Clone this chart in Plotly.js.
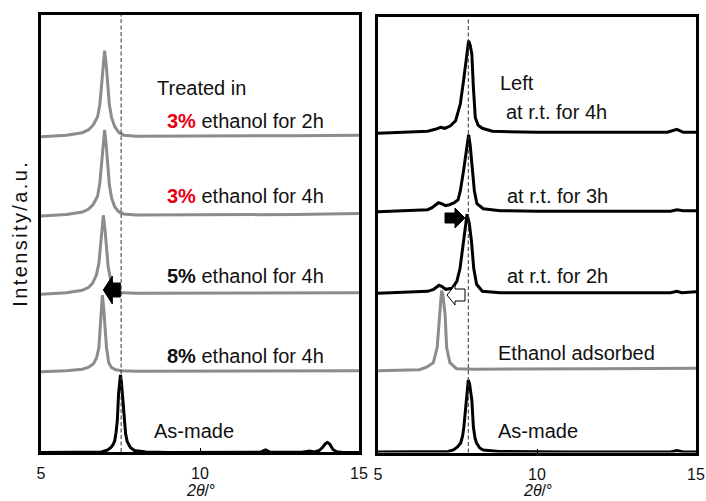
<!DOCTYPE html>
<html><head><meta charset="utf-8">
<script src="https://cdn.plot.ly/plotly-3.0.1.min.js"></script>
<style>
html,body{margin:0;padding:0;background:#fff}
#chart{width:706px;height:501px}
.ytitle{letter-spacing:2.4px}
</style>
</head><body><div id="chart"></div>
<script>
// ---------- Left panel: ethanol treatment (heights above each baseline, a.u.) ----------
const L1x = [5.0, 5.8, 6.3, 6.5, 6.65, 6.78, 6.85, 6.9, 6.95, 7.0, 7.05, 7.1, 7.15, 7.22, 7.32, 7.45, 7.6, 8.0, 10, 13, 15];
const L1h = [0, 1.5, 4, 7, 12, 20, 32, 52, 74, 86, 72, 50, 32, 19, 10, 4, 1.5, 0.5, 0.5, 1, 1.5];
const L2x = [5.0, 5.8, 6.3, 6.5, 6.65, 6.78, 6.85, 6.9, 6.95, 7.0, 7.05, 7.1, 7.15, 7.22, 7.32, 7.45, 7.6, 8.0, 10, 13, 15];
const L2h = [0, 1.5, 4, 7, 12, 20, 33, 53, 75, 86, 71, 49, 31, 18, 9, 4, 2, 1, 1, 1.5, 2.5];
const L3x = [5.0, 5.8, 6.3, 6.5, 6.62, 6.74, 6.82, 6.87, 6.92, 6.96, 7.01, 7.06, 7.11, 7.18, 7.28, 7.4, 7.55, 8.0, 10, 13, 15];
const L3h = [0, 1.5, 4, 7, 11, 19, 31, 50, 70, 79, 66, 45, 28, 16, 8, 3.5, 1.5, 1, 1, 1.5, 1.6];
const L4x = [5.0, 5.8, 6.3, 6.5, 6.65, 6.75, 6.82, 6.86, 6.9, 6.93, 6.97, 7.01, 7.06, 7.13, 7.22, 7.35, 7.55, 8.0, 10, 13, 15];
const L4h = [0, 1, 2.5, 4.5, 8, 14, 24, 40, 62, 76.5, 64, 44, 24, 9, 4, 2, 1, 0.5, 0.5, 1, 1];
const L5x = [5.0, 6.5, 6.9, 7.1, 7.2, 7.27, 7.32, 7.36, 7.4, 7.44, 7.47, 7.5, 7.53, 7.56, 7.61, 7.66, 7.71, 7.81, 7.94, 8.3, 9, 11, 11.9, 12.06, 12.2, 13.2, 13.44, 13.6, 13.75, 13.85, 13.95, 14.01, 14.08, 14.18, 14.3, 14.5, 15];
const L5h = [0, 0, 0.5, 2.5, 5, 8, 12, 20, 32, 59, 72, 77.5, 70, 58, 33, 19, 11, 5, 2, 0.5, 0, 0, 0.3, 2.5, 0.3, 0.3, 1.5, 0.5, 2, 5, 9, 10, 8.5, 3, 0.8, 0, 0];
const leftOffsets = [316.3, 237, 158.7, 81.3, 0.5];
const leftColors = ['#8c8c8c', '#8c8c8c', '#8c8c8c', '#8c8c8c', '#000000'];
const leftNames = ['3% ethanol for 2h', '3% ethanol for 4h', '5% ethanol for 4h', '8% ethanol for 4h', 'As-made'];

// ---------- Right panel: left at room temperature ----------
const R1x = [5.0, 6.0, 6.56, 6.8, 6.97, 7.1, 7.28, 7.44, 7.59, 7.69, 7.77, 7.81, 7.85, 7.9, 7.95, 8.0, 8.06, 8.15, 8.28, 8.6, 10, 12, 14.1, 14.4, 14.6, 15];
const R1h = [0, 1, 2, 4, 6, 5, 7.5, 12.5, 29.5, 52.5, 75, 86, 92.5, 88, 79.5, 45.5, 15.5, 8, 5, 2, 1, 1, 1, 4, 1, 1];
const R2x = [5.0, 6.0, 6.56, 6.7, 6.8, 6.9, 7.0, 7.12, 7.25, 7.4, 7.52, 7.59, 7.69, 7.76, 7.81, 7.85, 7.9, 7.96, 8.03, 8.11, 8.31, 8.84, 10, 14.2, 14.4, 14.6, 15];
const R2h = [0, 1, 2, 4, 7, 9, 8, 6, 7, 9, 12, 21, 41, 58, 70, 77, 66, 41, 21, 8, 3, 1, 0.5, 0.5, 2, 1, 1];
const R3x = [5.0, 6.0, 6.56, 6.75, 6.92, 7.0, 7.13, 7.33, 7.48, 7.58, 7.68, 7.74, 7.8, 7.87, 7.94, 8.01, 8.1, 8.28, 8.84, 10, 14.2, 14.4, 14.55, 15];
const R3h = [0, 1, 2, 4, 8, 7, 4, 5, 12, 25, 52, 68, 79, 70, 52, 25, 9, 2, 0.5, 0.5, 0.5, 2, 0.5, 1.5];
const R4x = [5.0, 6.0, 6.3, 6.53, 6.74, 6.86, 6.9, 6.93, 6.97, 7.0, 7.04, 7.08, 7.11, 7.14, 7.16, 7.26, 7.47, 8.0, 10, 12, 15];
const R4h = [0, 0.5, 1, 3.5, 8, 23, 40, 56, 74, 80, 76, 66, 56, 36, 23, 8, 2, 1.5, 1.5, 2, 2.5];
const R5x = [5.0, 6.9, 7.2, 7.37, 7.5, 7.6, 7.66, 7.70, 7.74, 7.77, 7.81, 7.84, 7.88, 7.92, 7.95, 8.0, 8.05, 8.1, 8.2, 8.31, 8.8, 11, 14.2, 14.4, 14.6, 15];
const R5h = [0, 0, 0.5, 2, 5, 9, 16, 25, 38, 52, 66, 72, 68, 60, 52, 25, 14, 9, 4, 2, 0.5, 0, 0, 1.5, 0, 0];
const rightOffsets = [320.7, 242.3, 160.7, 83.3, 2];
const rightColors = ['#000000', '#000000', '#000000', '#8c8c8c', '#000000'];
const rightNames = ['Left at r.t. for 4h', 'at r.t. for 3h', 'at r.t. for 2h', 'Ethanol adsorbed', 'As-made'];

// reference peak positions (dashed lines)
const refPeakLeft = 7.52;
const refPeakRight = 7.84;
const xTicks = [5, 10, 15];

const leftX = [L1x, L2x, L3x, L4x, L5x];
const leftH = [L1h, L2h, L3h, L4h, L5h];
const rightX = [R1x, R2x, R3x, R4x, R5x];
const rightH = [R1h, R2h, R3h, R4h, R5h];

const traces = [];
leftX.forEach((xs, i) => {
  traces.push({x: xs, y: leftH[i].map(v => v + leftOffsets[i]), type: 'scatter', mode: 'lines',
    name: leftNames[i], xaxis: 'x', yaxis: 'y', line: {color: leftColors[i], width: 3}, hoverinfo: 'skip'});
});
rightX.forEach((xs, i) => {
  traces.push({x: xs, y: rightH[i].map(v => v + rightOffsets[i]), type: 'scatter', mode: 'lines',
    name: rightNames[i], xaxis: 'x2', yaxis: 'y2', line: {color: rightColors[i], width: 3}, hoverinfo: 'skip'});
});

const FONT = 'Liberation Sans, Arial, Helvetica, sans-serif';
const RED = '#e60012';
function ann(text, x, y, xref, yref) {
  return {text: text, x: x, y: y, xref: xref, yref: yref, showarrow: false, xanchor: 'left', yanchor: 'middle',
    font: {family: FONT, size: 20, color: '#111'}};
}
function xTitle(xref) {
  return {text: '<i>2θ</i>/°', x: 0.5, y: 0, xref: xref, yref: 'paper', xanchor: 'center', yanchor: 'bottom',
    showarrow: false, font: {family: FONT, size: 16, color: '#111'}};
}
const annotations = [
  ann('Treated in', 8.6, 365.5, 'x', 'y'),
  ann('<b><span style="color:' + RED + '">3%</span></b> ethanol for 2h', 8.9, 332.2, 'x', 'y'),
  ann('<b><span style="color:' + RED + '">3%</span></b> ethanol for 4h', 8.9, 257.2, 'x', 'y'),
  ann('<b>5%</b> ethanol for 4h', 8.9, 176.6, 'x', 'y'),
  ann('<b>8%</b> ethanol for 4h', 8.9, 96.6, 'x', 'y'),
  ann('As-made', 8.5, 21.6, 'x', 'y'),
  ann('Left', 8.78, 371, 'x2', 'y2'),
  ann('at r.t. for 4h', 8.96, 341.6, 'x2', 'y2'),
  ann('at r.t. for 3h', 8.99, 257.6, 'x2', 'y2'),
  ann('at r.t. for 2h', 8.99, 177.6, 'x2', 'y2'),
  ann('Ethanol adsorbed', 8.7, 101, 'x2', 'y2'),
  ann('As-made', 8.7, 22.6, 'x2', 'y2'),
  xTitle('x domain'),
  xTitle('x2 domain')
];

const shapes = [
  {type: 'line', xref: 'x', yref: 'y domain', x0: refPeakLeft, x1: refPeakLeft, y0: 0, y1: 1,
    line: {color: '#333', width: 1, dash: '4px,2.5px'}},
  {type: 'line', xref: 'x2', yref: 'y2 domain', x0: refPeakRight, x1: refPeakRight, y0: 0, y1: 1,
    line: {color: '#333', width: 1, dash: '4px,2.5px'}},
  // left black arrow (pointing left)
  {type: 'path', xref: 'x', yref: 'y', xsizemode: 'pixel', ysizemode: 'pixel', xanchor: 6.96, yanchor: 163,
    path: 'M0,0 L9,14 L9,7 L17,7 L17,-7 L9,-7 L9,-14 Z', fillcolor: '#000', line: {color: '#000', width: 1}},
  // right black arrow (pointing right)
  {type: 'path', xref: 'x2', yref: 'y2', xsizemode: 'pixel', ysizemode: 'pixel', xanchor: 7.736, yanchor: 236,
    path: 'M0,0 L-10,10 L-10,5 L-20,5 L-20,-5 L-10,-5 L-10,-10 Z', fillcolor: '#000', line: {color: '#000', width: 1}},
  // right white arrow (pointing left)
  {type: 'path', xref: 'x2', yref: 'y2', xsizemode: 'pixel', ysizemode: 'pixel', xanchor: 7.17, yanchor: 159,
    path: 'M0,0 L8,10 L8,6 L18,6 L18,-6 L8,-6 L8,-10 Z', fillcolor: '#fff', line: {color: '#000', width: 1}}
];

const xCommon = {range: [5, 15], tickvals: xTicks, ticktext: xTicks.map(String), ticks: 'inside', ticklen: 4,
  tickwidth: 1, tickcolor: '#000', showline: true, mirror: true, linecolor: '#000', linewidth: 3,
  showgrid: false, zeroline: false, tickfont: {family: FONT, size: 16, color: '#111'}, ticklabelstandoff: 5};
const yCommon = {showline: true, mirror: true, linecolor: '#000', linewidth: 3, showgrid: false,
  zeroline: false, showticklabels: false, ticks: ''};

const layout = {
  width: 706, height: 501, margin: {l: 0, r: 0, t: 0, b: 0}, paper_bgcolor: '#fff', plot_bgcolor: '#fff',
  showlegend: false,
  xaxis: Object.assign({}, xCommon, {domain: [41 / 706, 359 / 706], anchor: 'y'}),
  xaxis2: Object.assign({}, xCommon, {domain: [378 / 706, 696 / 706], anchor: 'y2'}),
  yaxis: Object.assign({}, yCommon, {domain: [49 / 501, 486.5 / 501], range: [1, 438.5], anchor: 'x',
    title: {text: 'Intensity/a.u.', font: {family: FONT, size: 20, color: '#111'}, standoff: 6}}),
  yaxis2: Object.assign({}, yCommon, {domain: [48.5 / 501, 484.5 / 501], range: [1.5, 437.5], anchor: 'x2'}),
  annotations: annotations,
  shapes: shapes
};

Plotly.newPlot('chart', traces, layout, {staticPlot: true, displayModeBar: false});
</script>
</body></html>
